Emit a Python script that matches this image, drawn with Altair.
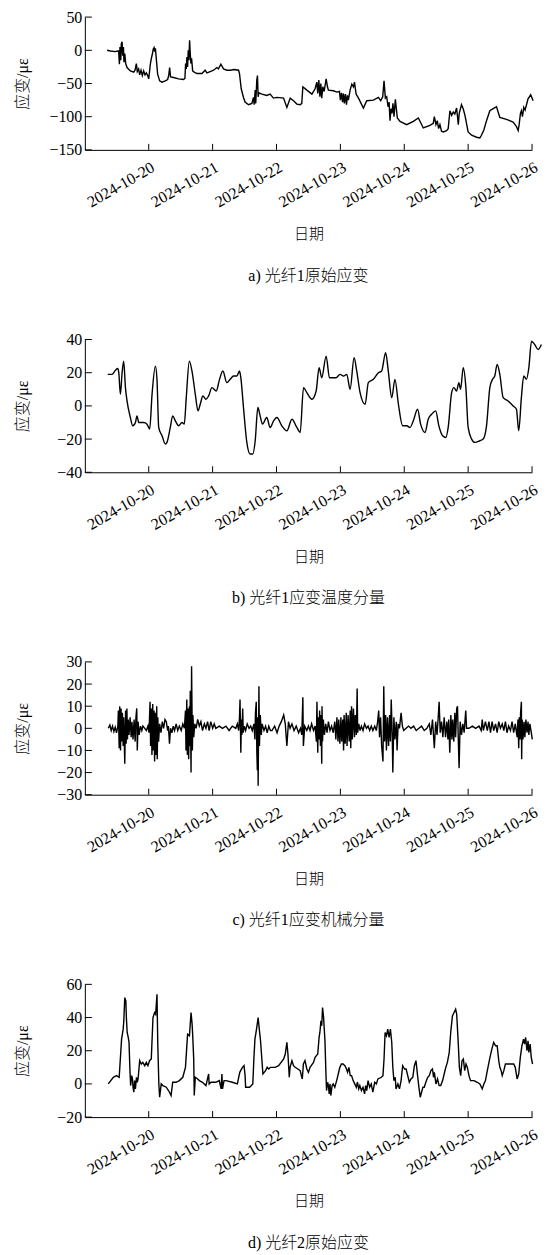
import altair as alt
import pandas as pd

# ---------------- data (hours after 2024-10-19 00:00, strain in με) ----------------
A_POINTS = [
    (8.35, 0), (9.6, -1), (11.5, -2), (12.35, -1), (12.7, -1), (12.98, -21), (13.2, 5), (13.5, -15),
    (13.7, 10), (14.0, 13), (14.2, -8), (14.5, 5), (14.7, -18), (15.0, -5), (15.35, -20), (15.85, -26),
    (17.1, -31), (18.35, -33), (18.85, -30), (19.35, -20), (19.7, -32), (20.2, -28), (20.6, -37),
    (21.1, -30), (21.6, -38), (22.1, -31), (22.6, -37), (23.1, -34), (23.6, -38), (24.0, -43),
    (24.35, -30), (24.6, -21), (25.0, -12), (25.35, -6), (25.7, 2), (26.0, 4), (26.2, -2), (26.5, 3),
    (26.85, -13), (27.35, -36), (28.1, -46), (29.0, -48), (30.2, -46), (31.1, -44), (31.5, -38),
    (31.85, -26), (32.2, -40), (33.35, -41), (35.2, -43), (37.1, -44), (37.6, -42), (37.85, -20),
    (38.1, -28), (38.35, -10), (38.6, -25), (38.85, 0), (39.1, -15), (39.35, 15), (39.6, -5),
    (39.85, -20), (40.1, -12), (40.5, -31), (41.1, -33), (42.1, -35), (44.0, -35), (45.2, -30),
    (45.85, -34), (47.1, -32), (48.35, -30), (49.6, -26), (50.2, -28), (51.1, -21), (52.1, -28),
    (53.35, -30), (54.6, -30), (56.1, -29), (57.75, -30), (58.1, -35), (58.75, -58), (59.6, -71),
    (60.2, -78), (61.5, -82), (62.75, -80), (63.35, -71), (63.6, -82), (64.0, -60), (64.2, -80),
    (64.6, -45), (64.85, -38), (65.1, -70), (65.35, -64), (66.5, -66), (68.35, -68), (69.6, -66),
    (70.85, -72), (72.15, -71), (74.65, -72), (75.9, -86), (77.15, -72), (78.4, -76), (79.65, -81),
    (80.9, -82), (81.5, -80), (81.9, -55), (83.4, -60), (85.3, -66), (86.5, -58), (87.15, -48),
    (87.5, -65), (87.9, -45), (88.3, -70), (88.65, -50), (89.0, -72), (89.4, -55), (89.9, -62),
    (90.65, -43), (91.15, -55), (91.5, -60), (93.4, -61), (94.65, -63), (95.65, -62), (96.0, -75),
    (96.4, -64), (96.8, -78), (97.15, -65), (97.5, -80), (97.9, -66), (98.3, -82), (98.65, -68),
    (99.0, -75), (99.65, -60), (100.3, -51), (100.9, -55), (101.3, -48), (101.9, -66), (102.8, -72),
    (104.65, -87), (105.9, -76), (108.4, -75), (110.3, -71), (111.15, -76), (111.9, -70),
    (112.4, -46), (112.9, -72), (113.4, -70), (113.9, -85), (114.3, -78), (114.65, -106),
    (115.0, -88), (115.4, -95), (115.75, -80), (116.15, -100), (116.65, -74), (117.4, -102),
    (118.4, -107), (120.9, -112), (123.4, -107), (125.3, -102), (127.15, -117), (129.65, -113),
    (130.9, -110), (131.3, -100), (131.9, -112), (132.4, -106), (132.9, -118), (133.4, -112),
    (134.0, -122), (134.65, -123), (135.9, -121), (136.5, -118), (137.15, -91), (137.8, -98),
    (138.4, -93), (139.0, -96), (139.65, -87), (140.0, -100), (140.3, -112), (140.65, -95),
    (141.5, -82), (142.15, -88), (142.8, -98), (144.0, -123), (145.3, -128), (147.15, -131),
    (148.4, -132), (149.0, -128), (149.9, -120), (150.9, -106), (152.15, -91), (153.4, -88),
    (154.65, -85), (155.9, -101), (158.4, -104), (160.9, -108), (162.15, -115), (162.8, -121),
    (163.15, -112), (163.65, -95), (164.0, -91), (164.4, -100), (164.9, -86), (165.4, -90),
    (166.5, -73), (167.5, -67), (168.4, -76),
]

B_POINTS = [
    (8.6, 19), (10.2, 19), (11.5, 21.5), (12.35, 22.5), (12.75, 20), (13.35, 7), (14.0, 20), (14.6, 27),
    (15.25, 11), (15.85, 3), (17.1, -7), (18.0, -12), (19.0, -10), (19.6, -6), (20.25, -10),
    (22.1, -10), (23.35, -11), (24.35, -14), (25.25, 7), (26.5, 24), (27.1, 16), (27.75, -13),
    (29.0, -18), (30.25, -23), (30.85, -22), (32.1, -13), (33.0, -6), (34.0, -9), (35.25, -12),
    (36.5, -10), (37.35, -11), (38.1, 5), (39.25, 27), (40.25, 21), (41.5, 7), (42.5, -3),
    (43.35, 1), (44.35, 6), (45.5, 4), (46.5, 6), (47.75, 11), (49.35, 9), (50.6, 16), (51.85, 21),
    (53.35, 14), (54.6, 16), (55.85, 18), (57.1, 18), (58.1, 21), (58.6, 17), (59.6, -1),
    (60.85, -22), (62.1, -29), (63.1, -29), (64.0, -21), (65.0, -1), (65.85, -6), (66.75, -11),
    (68.35, -7), (69.6, -13), (70.9, -9), (72.15, -7), (74.0, -12), (75.9, -15), (77.8, -8),
    (79.65, -13), (80.9, -16), (82.15, 11), (83.4, 8), (85.3, 4), (86.9, 9), (88.0, 23), (89.0, 17),
    (90.65, 30), (91.9, 17), (93.15, 17), (94.4, 17), (95.9, 19), (97.15, 18), (98.4, 19),
    (99.65, 10), (101.15, 29), (102.15, 21), (103.4, 8), (105.3, 1), (106.5, 14), (108.4, 16),
    (110.3, 20), (111.5, 21), (113.0, 32), (114.0, 21), (115.3, 5), (116.5, 16), (117.8, 1),
    (119.4, -12), (120.9, -12), (122.15, -13), (123.4, -9), (125.0, -2), (126.15, -11),
    (127.8, -16), (129.0, -8), (130.3, -5), (131.8, -3), (133.0, -12), (134.4, -18), (135.65, -19),
    (136.5, -13), (137.8, 8), (138.65, 11), (139.65, 9), (140.5, 14), (141.15, 10), (142.15, 23),
    (143.15, 11), (144.0, -13), (145.3, -20), (146.5, -22), (148.4, -21), (149.65, -20),
    (150.9, -12), (152.15, 11), (153.15, 16), (154.0, 18), (154.9, 25), (155.9, 19), (157.15, 5),
    (159.0, 3), (160.9, 0), (162.15, -2), (163.0, -15), (164.0, 5), (164.9, 18), (165.9, 16),
    (166.8, 23), (167.8, 39), (169.0, 37), (170.3, 34), (171.5, 37),
]

C_POINTS = [
    (8.8, 0), (9.4, 1.5), (9.9, -1), (10.4, 1), (10.9, -1.5), (11.4, 0.5), (11.9, -2), (12.4, 1),
    (12.6, 8), (12.9, -9), (13.1, 10), (13.4, -10), (13.6, 9), (13.9, -6), (14.1, 7), (14.4, -8),
    (14.6, 5), (15.0, -16), (15.3, 8), (15.5, -7), (15.8, 9), (16.0, -5), (16.3, 4), (16.6, -3),
    (17.0, 5), (17.4, -4), (17.7, 3), (18.1, -5), (18.5, 4), (18.9, -6), (19.2, 5), (19.5, 9),
    (19.7, -10), (20.0, 3), (20.4, -3), (20.9, 1), (21.4, -1), (21.8, 1), (22.5, 0), (23.1, -1),
    (23.7, 1), (24.1, -2), (24.5, 12), (24.7, -8), (25.0, 9), (25.2, -12), (25.5, 11), (25.7, -10),
    (26.0, 8), (26.2, -15), (26.5, 7), (26.7, -12), (27.0, 10), (27.2, -14), (27.4, 5), (27.7, -6),
    (28.1, 2), (28.6, -2), (29.1, 3), (29.6, 0), (30.1, 4), (30.6, 3), (31.1, -1), (31.4, 1),
    (31.8, -7), (32.2, 0), (32.7, -2), (33.2, 1), (33.7, -1), (34.3, 2), (34.9, -1), (35.5, 1),
    (36.2, -1), (36.8, 2), (37.4, 0), (37.8, 8), (38.0, -10), (38.3, 13), (38.5, -12), (38.8, 9),
    (39.0, -14), (39.3, 10), (39.5, -8), (39.6, 17), (39.9, -20), (40.1, 28), (40.4, -10),
    (40.6, 6), (40.9, -4), (41.3, 2), (41.8, 0), (42.4, 4), (43.0, 1), (43.6, 3), (44.2, -1),
    (44.9, 2), (45.5, 0), (46.1, 3), (46.7, -1), (47.3, 3), (48.0, 0), (48.6, 2), (49.2, 0),
    (50.5, 1), (51.7, 0), (53.0, 1), (54.2, -1), (55.4, 1), (56.7, 0), (57.3, 2), (57.8, -1),
    (58.1, 5), (58.3, 13), (58.6, -11), (58.8, 4), (59.0, -3), (59.3, 9), (59.5, -2), (59.9, 1),
    (60.4, -1), (61.0, 2), (61.7, 0), (62.3, 1), (62.9, -1), (63.5, 2), (63.9, -5), (64.1, 7),
    (64.4, 12), (64.6, -10), (64.8, -19), (65.0, 5), (65.1, -26), (65.4, 19), (65.6, -8), (65.9, 6),
    (66.3, -3), (66.6, 2), (67.3, -1), (67.9, 1), (68.5, -2), (69.1, 1), (69.7, -1), (70.3, -1),
    (71.3, 1), (72.2, -2), (73.0, 1), (73.8, 3), (74.7, 6), (75.3, 2), (75.9, -8), (76.5, 3),
    (77.1, 0), (77.8, 2), (78.6, -1), (79.4, 1), (80.3, -2), (81.0, 0), (81.5, -3), (81.9, 14),
    (82.1, -8), (82.6, 1), (83.4, -1), (84.0, 1), (84.6, -1), (85.2, 2), (85.9, -1), (86.5, 1),
    (87.0, -6), (87.2, 12), (87.5, -11), (87.7, 5), (88.0, -5), (88.2, 8), (88.5, -8), (88.7, 6),
    (89.0, -16), (89.1, 10), (89.3, -6), (89.6, 4), (90.0, -3), (90.5, 2), (91.0, -2), (91.5, 3),
    (92.1, -1), (92.7, 1), (93.3, -2), (93.9, 3), (94.3, -5), (94.7, 5), (95.1, -6), (95.4, 4),
    (95.8, -7), (96.2, 5), (96.5, -6), (96.9, 4), (97.2, -10), (97.4, 6), (97.8, -7), (98.2, 7),
    (98.5, -8), (98.9, 6), (99.3, -6), (99.7, 8), (99.9, -9), (100.2, 10), (100.5, -5), (100.9, 9),
    (101.3, -4), (101.6, 6), (102.0, -3), (102.3, 18), (102.5, -2), (102.9, 2), (103.4, -1),
    (103.9, 1), (104.5, -1), (105.1, 2), (105.8, 0), (106.4, 1), (107.0, -1), (107.6, 1),
    (108.2, -1), (108.9, 1), (109.5, -1), (110.0, 3), (110.4, 8), (110.7, -4), (111.1, 5),
    (111.5, -8), (112.0, -15), (112.3, 19), (112.6, -6), (113.0, 6), (113.3, -10), (113.7, 5),
    (114.1, -8), (114.5, 6), (114.8, -6), (115.1, 13), (115.5, -4), (115.7, -20), (116.1, 5),
    (116.5, -5), (117.0, 3), (117.3, -10), (117.7, 2), (118.2, 0), (118.8, 7), (119.3, 1),
    (119.8, -1), (120.7, 0), (121.6, 1), (122.5, 0), (123.5, 1), (124.5, -1), (125.5, 0),
    (126.5, 1), (127.5, -1), (128.5, 0), (129.4, 2), (130.0, -3), (130.6, 4), (131.3, -9),
    (131.8, 3), (132.3, -3), (132.7, 4), (133.1, 12), (133.5, -2), (134.0, 3), (134.5, -4),
    (135.0, 5), (135.5, -4), (136.0, 3), (136.4, -5), (136.7, 4), (137.1, -11), (137.5, 6),
    (137.9, -5), (138.2, 4), (138.6, -6), (139.0, 7), (139.3, -4), (139.7, 9), (140.0, 10),
    (140.3, -5), (140.6, -18), (141.0, 3), (141.5, -3), (142.0, 2), (142.5, -2), (143.1, 8),
    (143.4, 0), (144.3, 0), (145.6, 1), (146.8, 0), (148.1, 1), (148.9, -1), (149.3, 4),
    (149.7, -1), (150.5, 3), (151.2, -1), (151.8, 3), (152.4, -2), (153.0, 3), (153.6, -1),
    (154.3, 2), (154.9, -2), (155.5, 3), (156.1, 0), (156.8, 2), (157.4, -1), (158.0, 3),
    (158.6, -2), (159.2, 1), (159.9, -1), (160.5, 3), (161.1, -2), (161.7, 2), (162.4, -4),
    (162.7, 4), (163.0, -9), (163.2, 5), (163.5, -5), (163.7, 7), (164.0, 12), (164.1, -14),
    (164.3, 4), (164.6, -5), (165.0, 3), (165.3, -4), (165.7, 4), (166.1, -2), (166.5, 3),
    (166.8, -3), (167.2, 2), (167.6, -1), (168.1, -5),
]

D_POINTS = [
    (8.8, 0), (10.7, 4), (11.9, 5), (12.9, 4), (13.1, 9), (13.8, 27), (14.4, 33), (14.6, 37),
    (15.0, 52), (15.4, 50), (15.6, 40), (15.9, 31), (16.3, 28), (16.6, 25), (16.9, 10), (17.2, -1),
    (17.6, 5), (17.9, 3), (18.1, -2), (18.4, -5), (18.7, 2), (19.0, -3), (19.4, 4), (19.7, 1),
    (20.0, 3), (20.6, 14), (21.2, 12), (21.8, 13), (22.5, 11), (23.1, 13), (23.7, 11), (24.3, 14),
    (24.96, 15), (25.6, 40), (26.2, 43), (26.6, 42), (27.1, 54), (27.4, 24), (27.8, 0), (28.1, -8),
    (28.7, 0), (29.3, -1), (30.6, -2), (31.8, -5), (32.4, -7), (33.0, 1), (34.3, 1), (35.5, 2),
    (36.8, 4), (37.8, 10), (38.6, 30), (39.3, 29), (39.9, 43), (40.3, 36), (40.5, 30), (40.9, 15),
    (41.1, -7), (41.5, 4), (42.4, 3), (43.0, 2), (44.2, 1), (45.5, -1), (46.5, 6), (46.7, 0),
    (47.4, 1), (49.2, 1), (50.5, 2), (51.2, -3), (51.5, 6), (51.7, -3), (52.3, 2), (53.0, 2),
    (55.4, 1), (57.3, 0), (58.2, 7), (59.2, 10), (59.8, 11), (60.2, 5), (60.4, -2), (61.9, -2),
    (63.1, 0), (63.5, 15), (63.9, 27), (64.5, 33), (65.1, 40), (65.6, 32), (66.0, 26), (66.9, 6),
    (67.9, 8), (68.5, 10), (69.1, 9), (69.7, 10), (71.5, 10), (72.8, 11), (74.7, 15), (75.3, 18),
    (75.9, 25), (76.3, 18), (76.8, 4), (77.1, 10), (77.8, 14), (78.4, 11), (79.0, 10), (80.0, 9),
    (80.9, 8), (81.5, 4), (81.7, 3), (82.1, 12), (82.7, 14), (83.4, 9), (84.0, 7), (84.6, 10),
    (85.9, 13), (86.5, 16), (87.5, 18), (88.0, 28), (88.3, 31), (88.7, 38), (89.0, 35), (89.3, 46),
    (89.7, 40), (90.2, 26), (90.6, 5), (90.8, -4), (91.2, 1), (91.5, -1), (91.8, -6), (92.1, 0),
    (92.4, -7), (92.9, -1), (93.3, 0), (93.9, -2), (94.6, 2), (95.2, 6), (95.8, 10), (96.4, 12),
    (97.0, 12), (97.7, 11), (98.3, 9), (98.7, 7), (99.2, 10), (99.7, 5), (100.2, 5), (100.8, 2),
    (101.4, 0), (102.0, -2), (102.4, 1), (102.9, -3), (103.3, -1), (103.9, -4), (104.5, -2),
    (105.1, -6), (105.5, -1), (105.9, -4), (106.4, 2), (107.0, -2), (107.6, 0), (108.2, -5),
    (108.9, 1), (109.5, 0), (110.1, 3), (111.4, 4), (112.0, 5), (112.4, 15), (112.8, 31),
    (113.3, 29), (113.8, 33), (114.3, 28), (114.8, 33), (115.3, 25), (115.7, 10), (116.1, 2),
    (116.6, 4), (116.9, -3), (117.6, 0), (118.2, -3), (118.8, 2), (119.4, 11), (120.1, 9),
    (120.7, 9), (121.3, 5), (121.9, 1), (122.5, 3), (123.2, 4), (123.8, 11), (124.4, 14),
    (124.8, 8), (125.0, 5), (125.5, -2), (126.0, -8), (126.5, -5), (127.0, -2), (127.5, -2),
    (128.1, 1), (128.8, 4), (129.4, 5), (130.0, 8), (130.6, 9), (131.0, 4), (131.3, 7), (131.9, 0),
    (132.5, 3), (133.1, -1), (133.7, -1), (134.4, 2), (135.0, 6), (135.6, 10), (136.2, 13),
    (136.9, 19), (137.5, 32), (138.1, 41), (138.7, 43), (139.3, 45), (139.7, 42), (140.3, 24),
    (140.7, 10), (141.2, 5), (141.7, 14), (142.2, 15), (142.7, 8), (143.2, 12), (143.7, 10),
    (144.3, 5), (144.9, 2), (146.2, 2), (147.4, 1), (148.4, 0), (149.3, -3), (149.9, 0), (150.5, 2),
    (151.2, 8), (152.2, 16), (152.9, 21), (153.6, 25), (154.3, 23), (154.9, 23), (155.5, 14),
    (155.9, 10), (156.4, 8), (156.8, 5), (157.4, 8), (158.0, 12), (158.6, 12), (159.9, 12),
    (161.1, 12), (161.7, 10), (162.4, 3), (163.0, 6), (163.6, 16), (164.2, 23), (164.8, 27),
    (165.2, 24), (165.6, 28), (166.1, 20), (166.5, 26), (166.8, 19), (167.3, 24), (167.7, 16),
    (168.2, 12),
]

TICK_DAYS = [20, 21, 22, 23, 24, 25, 26]
A_YTICKS = [-150, -100, -50, 0, 50]
B_YTICKS = [-40, -20, 0, 20, 40]
C_YTICKS = [-30, -20, -10, 0, 10, 20, 30]
D_YTICKS = [-20, 0, 20, 40, 60]
CAPTIONS = ["a) 光纤1原始应变", "b) 光纤1应变温度分量", "c) 光纤1应变机械分量", "d) 光纤2原始应变"]
Y_TITLE = "应变/με"
X_TITLE = "日期"

# ---------------- chart ----------------
BASE = pd.Timestamp("2024-10-19 00:00:00")
W, H = 448, 133
FONT = "Liberation Serif, Noto Sans CJK SC"

x_domain = [alt.DateTime(year=2024, month=10, date=19), alt.DateTime(year=2024, month=10, date=26)]
x_values = [alt.DateTime(year=2024, month=10, date=d) for d in TICK_DAYS]
tick_df = pd.DataFrame({"time": [pd.Timestamp(2024, 10, d) for d in TICK_DAYS]})


def to_df(points):
    return pd.DataFrame({
        "time": [BASE + pd.Timedelta(hours=h) for h, _ in points],
        "value": [v for _, v in points],
    })


def panel(points, yticks, caption, interp="linear"):
    ydom = [min(yticks), max(yticks)]
    x_enc = alt.X("time:T", scale=alt.Scale(domain=x_domain), axis=alt.Axis(
        values=x_values, format="%Y-%m-%d", labelAngle=-30, labelAlign="right",
        labelBaseline="top", labelPadding=9, labelOffset=0, ticks=False, tickSize=0,
        grid=False, title=X_TITLE, titleY=84, titleBaseline="middle", labelFlush=False,
        labelOverlap=False, labelFontSize=16))
    y_enc = alt.Y("value:Q", scale=alt.Scale(domain=ydom, nice=False, zero=False), axis=alt.Axis(
        values=yticks, ticks=False, tickSize=0, grid=False, labelPadding=3,
        title=Y_TITLE, titleX=-62, titleBaseline="middle", titleAngle=270, titleFontSize=16))
    line = alt.Chart(to_df(points)).mark_line(
        color="black", strokeWidth=1.4, interpolate=interp
    ).encode(x=x_enc, y=y_enc)
    xt = alt.Chart(tick_df).mark_rule(color="black", strokeWidth=1).encode(
        x=x_enc, y=alt.value(H), y2=alt.value(H - 6),
    )
    yt = alt.Chart(pd.DataFrame({"value": yticks})).mark_rule(color="black", strokeWidth=1).encode(
        y=y_enc, x=alt.value(0), x2=alt.value(7),
    )
    return alt.layer(line, xt, yt).properties(
        width=W, height=H,
        title=alt.TitleParams(caption, orient="bottom", anchor="middle", offset=26,
                              baseline="top", fontSize=16, font=FONT, fontWeight=300,
                              color="black"),
    )


chart = alt.vconcat(
    panel(A_POINTS, A_YTICKS, CAPTIONS[0]),
    panel(B_POINTS, B_YTICKS, CAPTIONS[1], interp="monotone"),
    panel(C_POINTS, C_YTICKS, CAPTIONS[2]),
    panel(D_POINTS, D_YTICKS, CAPTIONS[3]),
    spacing=190, bounds="flush",
).properties(
    padding={"left": 15, "top": 8, "right": 5, "bottom": 2},
    background="white",
).configure_view(stroke=None).configure_axis(
    labelFont=FONT, titleFont=FONT, labelFontSize=16, titleFontSize=15,
    labelColor="black", titleColor="black", titleFontWeight=300,
    domainColor="black", domainWidth=1,
)

chart.save("out.html", embed_options={"renderer": "svg", "actions": False})
